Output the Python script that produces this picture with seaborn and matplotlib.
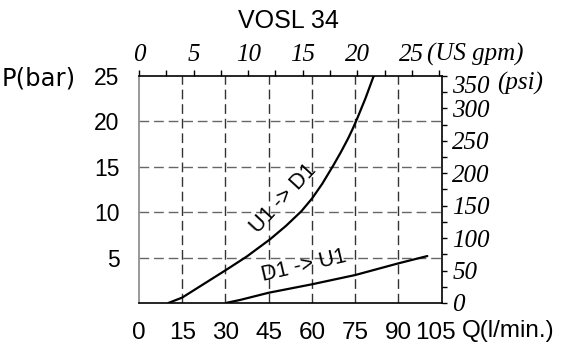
import matplotlib
matplotlib.use("Agg")
import pandas as pd
import matplotlib.pyplot as plt
import matplotlib.transforms as mtransforms
import seaborn as sns

# Werte: Q in l/min, P in bar
q_u1_d1 = [10.2, 15, 22, 30, 37.3, 45.4, 51, 56.3, 60, 63.5, 67.3, 70, 72.5, 74, 75.4, 78.5, 81.4]
p_u1_d1 = [0, 0.6, 2.0, 3.6, 5.1, 7.0, 8.5, 10.1, 11.5, 13.1, 15.1, 16.6, 18.1, 19.1, 20.1, 22.5, 25.0]
q_d1_u1 = [30.1, 35, 45, 60, 75, 90, 100]
p_d1_u1 = [0, 0.33, 1.13, 2.06, 3.08, 4.37, 5.17]

q_ticks = [0, 15, 30, 45, 60, 75, 90, 105]
p_ticks = [5, 10, 15, 20, 25]
gpm_ticks = [0, 5, 10, 15, 20, 25]
psi_ticks = [0, 50, 100, 150, 200, 250, 300, 350]

df = pd.concat([
    pd.DataFrame({"Q": q_u1_d1, "P": p_u1_d1, "dir": "U1 -> D1"}),
    pd.DataFrame({"Q": q_d1_u1, "P": p_d1_u1, "dir": "D1 -> U1"}),
])

sns.set_style("white")
plt.rcParams["text.color"] = "black"
plt.rcParams["xtick.color"] = "black"
plt.rcParams["ytick.color"] = "black"
sans = ["Liberation Sans", "DejaVu Sans"]
serif = ["Liberation Serif", "DejaVu Serif"]

fig = plt.figure(figsize=(5.68, 3.5), dpi=100)
ax = fig.add_axes([0.2447, 0.1343, 0.533, 0.6486])

sns.lineplot(data=df, x="Q", y="P", units="dir", estimator=None, sort=False,
             color="black", lw=1.6, legend=False, ax=ax)

ax.set_xlim(0, 105)
ax.set_ylim(0, 25)
ax.set_xlabel("")
ax.set_ylabel("")

# gestrichelte Gitterlinien
for q in q_ticks[1:-1]:
    ax.axvline(q, color="#333333", lw=1, ls=(0, (7, 3.5)), zorder=0)
for p in p_ticks[:-1]:
    ax.axhline(p, color="#666666", lw=1, ls=(0, (7, 3.5)), zorder=0)

for s in ["top", "right", "bottom"]:
    ax.spines[s].set_color("black")
    ax.spines[s].set_linewidth(1.2)
ax.spines["left"].set_color("#888888")
ax.spines["left"].set_linewidth(1.2)

ax.set_xticks(q_ticks)
ax.set_xticklabels([str(v) for v in q_ticks], family=sans, fontsize=17.5)
ax.set_yticks(p_ticks)
ax.set_yticklabels([str(v) for v in p_ticks], family=sans, fontsize=16.5)
ax.tick_params(axis="x", length=0, pad=14)
ax.tick_params(axis="y", length=0, pad=14)
# "105" etwas nach links, damit Platz fuer Q(l/min.) bleibt
lab = ax.get_xticklabels()[-1]
lab.set_transform(lab.get_transform() + mtransforms.ScaledTranslation(-0.06, 0, fig.dpi_scale_trans))

# obere Achse US gpm
top = ax.secondary_xaxis("top", functions=(lambda x: x / 3.785, lambda x: x * 3.785))
top.set_xticks(gpm_ticks)
top.set_xticks([2.5, 7.5, 12.5, 17.5, 22.5, 27.5], minor=True)
top.set_xticklabels([str(v) for v in gpm_ticks], family=serif, style="italic", fontsize=18)
top.tick_params(which="both", direction="out", length=4, width=1, pad=3)
top.spines["top"].set_visible(False)

# rechte Achse psi
right = ax.secondary_yaxis("right", functions=(lambda y: y * 14, lambda y: y / 14))
right.set_yticks(psi_ticks)
right.set_yticks([25, 75, 125, 175, 225, 275, 325], minor=True)
right.set_yticklabels([str(v) for v in psi_ticks], family=serif, style="italic", fontsize=18)
right.tick_params(which="both", direction="out", length=3.5, width=1, pad=4)
right.spines["right"].set_visible(False)
right.get_yticklabels()[-1].set_va("top")

fig.text(0.507, 0.94, "VOSL 34", family=sans, fontsize=18, ha="center", va="center")
fig.text(0.003, 0.777, "P(bar)", family="DejaVu Sans", fontsize=17.5, ha="left", va="center")
fig.text(0.814, 0.054, "Q(l/min.)", family=sans, fontsize=17.5, ha="left", va="center")
fig.text(0.752, 0.843, "(US gpm)", family=serif, style="italic", fontsize=18, ha="left", va="center")
fig.text(0.876, 0.762, "(psi)", family=serif, style="italic", fontsize=18, ha="left", va="center")

ax.text(50.2, 11.5, "U1 -> D1", family=sans, fontsize=15.5, rotation=47,
        ha="center", va="center", rotation_mode="anchor")
ax.text(57.3, 4.05, "D1 -> U1", family=sans, fontsize=15.5, rotation=13,
        ha="center", va="center", rotation_mode="anchor")

fig.savefig("out.png", dpi=100)
